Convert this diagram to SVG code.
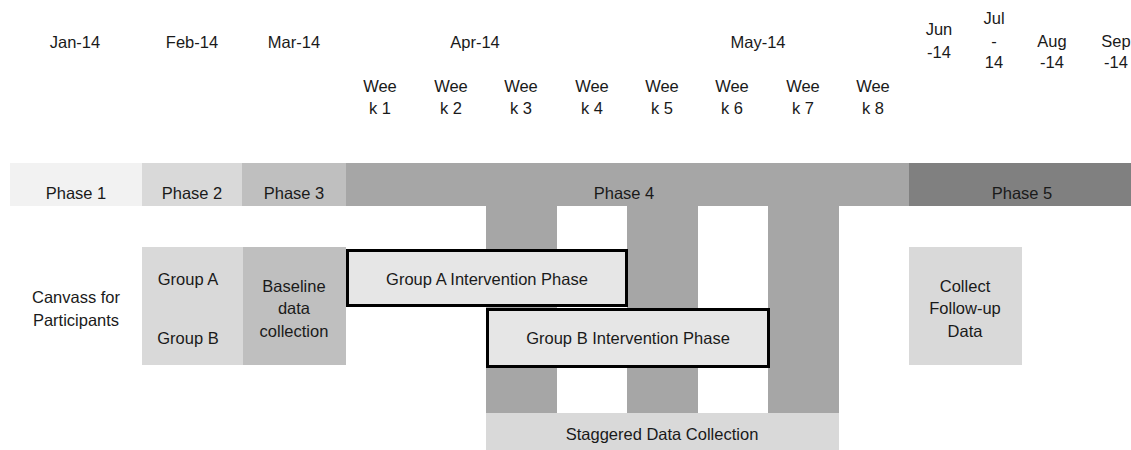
<svg xmlns="http://www.w3.org/2000/svg" width="1131" height="450" viewBox="0 0 1131 450">
<style>
text{font-family:"Liberation Sans",Arial,sans-serif;font-size:16.5px;fill:#1a1a1a;text-anchor:middle}
.p1{fill:#F2F2F2}.p2{fill:#D9D9D9}.p3{fill:#BFBFBF}.p4{fill:#A6A6A6}.p5{fill:#808080}
.iv{fill:#E6E6E6;stroke:#000;stroke-width:3}
</style>
<rect width="1131" height="450" fill="#fff"/>
<g id="header">
<text x="75" y="48">Jan-14</text>
<text x="192" y="48">Feb-14</text>
<text x="294" y="48">Mar-14</text>
<text x="475" y="48">Apr-14</text>
<text x="758" y="48">May-14</text>
<text x="939" y="35">Jun</text><text x="939" y="58">-14</text>
<text x="994" y="24">Jul</text><text x="994" y="47">-</text><text x="994" y="68">14</text>
<text x="1052" y="47">Aug</text><text x="1052" y="68">-14</text>
<text x="1116" y="47">Sep</text><text x="1116" y="68">-14</text>
</g>
<g id="weeks">
<text x="380" y="92">Wee</text><text x="380" y="114">k 1</text>
<text x="451" y="92">Wee</text><text x="451" y="114">k 2</text>
<text x="521" y="92">Wee</text><text x="521" y="114">k 3</text>
<text x="592" y="92">Wee</text><text x="592" y="114">k 4</text>
<text x="662" y="92">Wee</text><text x="662" y="114">k 5</text>
<text x="732" y="92">Wee</text><text x="732" y="114">k 6</text>
<text x="803" y="92">Wee</text><text x="803" y="114">k 7</text>
<text x="873" y="92">Wee</text><text x="873" y="114">k 8</text>
</g>
<g id="phase1"><rect class="p1" x="10" y="163" width="132" height="43"/><text x="76" y="199">Phase 1</text></g>
<g id="phase2"><rect class="p2" x="142" y="163" width="100" height="43"/><text x="192" y="199">Phase 2</text></g>
<g id="phase3"><rect class="p3" x="242" y="163" width="104" height="43"/><text x="294" y="199">Phase 3</text></g>
<g id="phase4">
<rect class="p4" x="346" y="163" width="563" height="43"/>
<rect class="p4" x="486" y="205" width="71" height="208"/>
<rect class="p4" x="627" y="205" width="71" height="208"/>
<rect class="p4" x="768" y="205" width="71" height="208"/>
<text x="624" y="199">Phase 4</text>
</g>
<g id="phase5"><rect class="p5" x="909" y="163" width="222" height="43"/><text x="1022" y="199">Phase 5</text></g>
<g id="staggered"><rect class="p2" x="486" y="413" width="353" height="37"/><text x="662" y="440">Staggered Data Collection</text></g>
<g id="canvass"><text x="76" y="303">Canvass for</text><text x="76" y="326">Participants</text></g>
<g id="groups"><rect class="p2" x="142" y="247" width="101" height="118"/><text x="188" y="285">Group A</text><text x="188" y="344">Group B</text></g>
<g id="baseline"><rect class="p3" x="243" y="247" width="103" height="118"/><text x="294" y="292">Baseline</text><text x="294" y="314">data</text><text x="294" y="337">collection</text></g>
<g id="groupA-intervention"><rect class="iv" x="347.5" y="250.5" width="279" height="55"/><text x="487" y="285">Group A Intervention Phase</text></g>
<g id="groupB-intervention"><rect class="iv" x="487.5" y="309.5" width="281" height="57"/><text x="628" y="344">Group B Intervention Phase</text></g>
<g id="followup"><rect class="p2" x="909" y="247" width="113" height="118"/><text x="965" y="292">Collect</text><text x="965" y="314">Follow-up</text><text x="965" y="337">Data</text></g>
<g id="connectors"/>
</svg>
